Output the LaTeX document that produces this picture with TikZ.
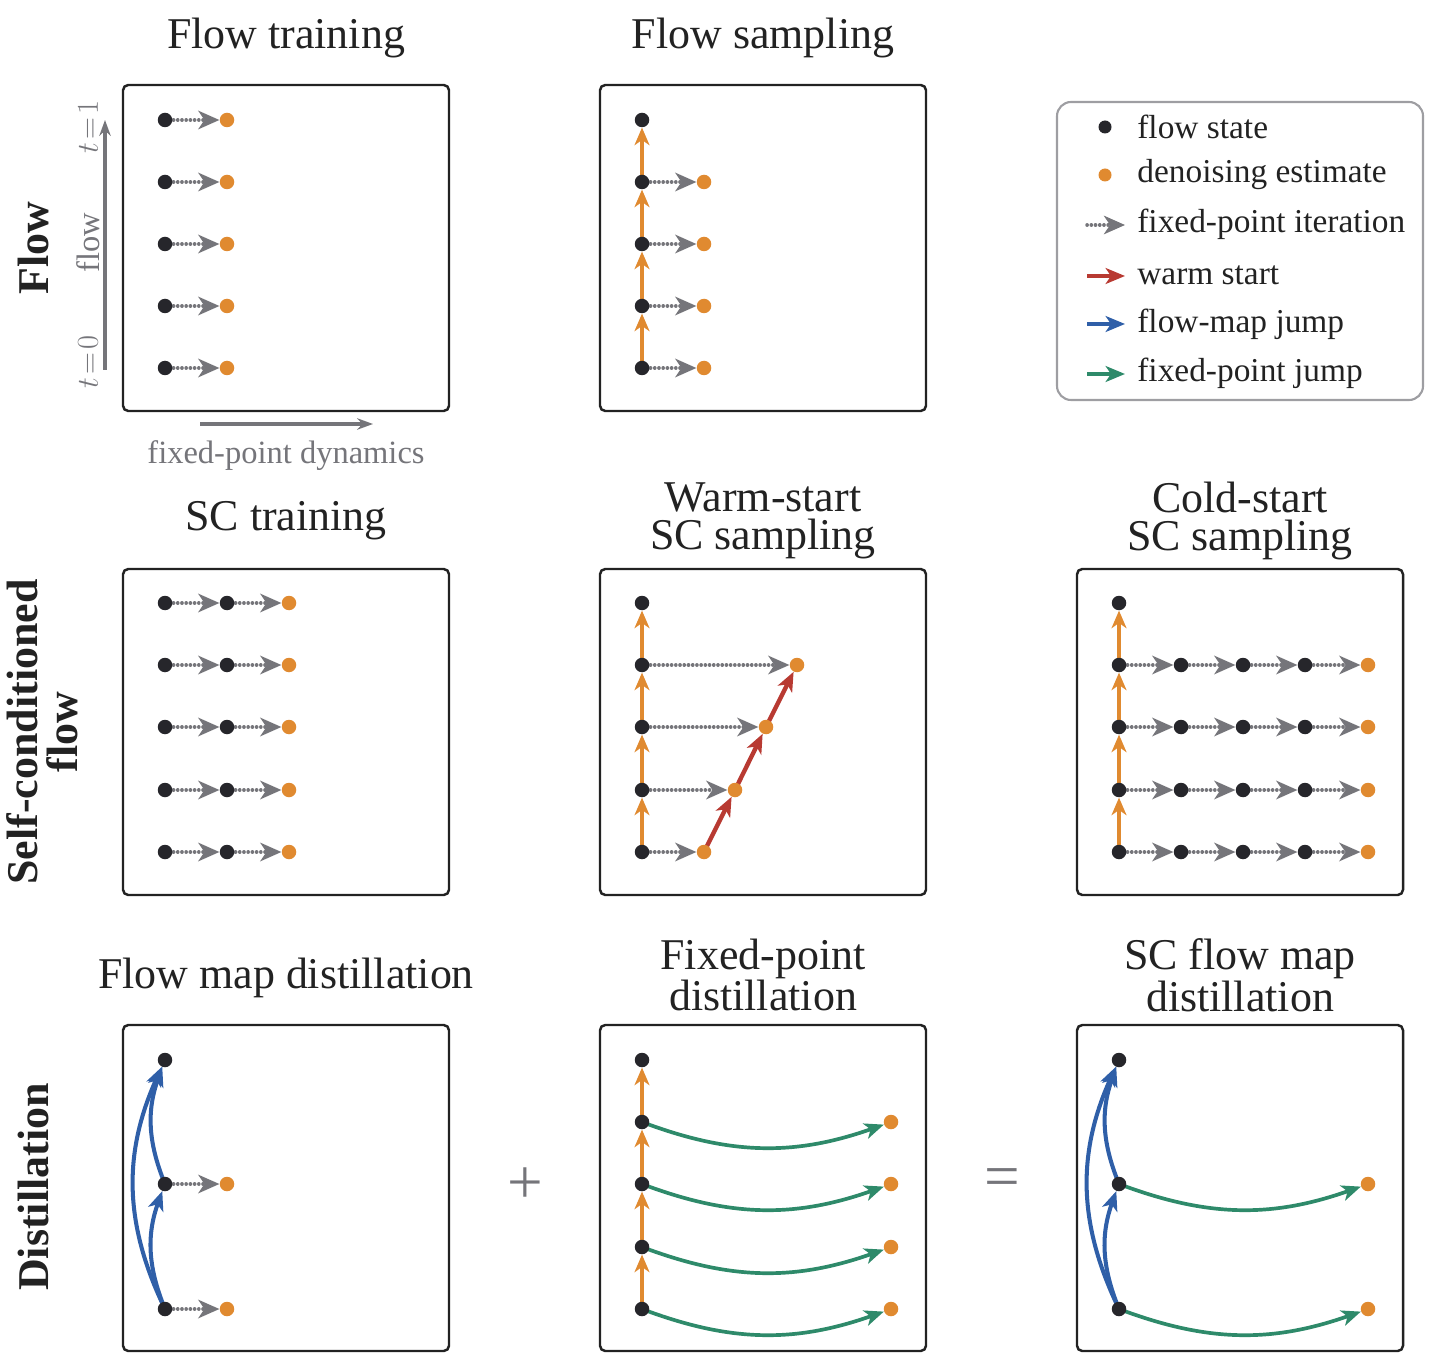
\documentclass[tikz,border=0pt]{standalone}
\usepackage{fontspec}
\setmainfont{Liberation Serif}
\usetikzlibrary{arrows.meta,backgrounds}
\definecolor{dotc}{HTML}{26262B}
\definecolor{orc}{HTML}{E08A30}
\definecolor{grc}{HTML}{75757A}
\definecolor{redc}{HTML}{B83A32}
\definecolor{bluc}{HTML}{2F5FA8}
\definecolor{grnc}{HTML}{2E8A6A}
\definecolor{txt}{HTML}{222222}
\tikzset{
  bd/.style={circle,fill=dotc,inner sep=0,minimum size=0.29cm},
  od/.style={circle,fill=orc,inner sep=0,minimum size=0.29cm},
  frame/.style={draw=txt,line width=1.4pt,rounded corners=3pt},
  fp/.style={draw=grc,line width=2pt,line cap=round,dash pattern=on 0.1pt off 2.3pt,
    -{Stealth[length=12pt,width=10.5pt,inset=3.5pt,fill=grc,line cap=butt,sep=0pt]}},
  ov/.style={draw=orc,line width=1.9pt,-{Stealth[length=10pt,width=8.5pt,inset=3pt]}},
  wr/.style={draw=redc,line width=2.5pt,-{Stealth[length=11pt,width=9pt,inset=3pt]}},
  bj/.style={draw=bluc,line width=2.3pt,-{Stealth[length=11pt,width=9pt,inset=3pt]}},
  gj/.style={draw=grnc,line width=2.1pt,-{Stealth[length=11pt,width=9pt,inset=3pt]}},
  ttl/.style={font=\fontsize{25}{22}\selectfont,text=txt,align=center,inner sep=0},
  rl/.style={font=\fontsize{25}{22.5}\selectfont\bfseries,text=txt,align=center,rotate=90,inner sep=0},
  ax/.style={font=\fontsize{18.5}{20}\selectfont,text=grc,inner sep=0},
  lg/.style={font=\fontsize{19}{21}\selectfont,text=txt,anchor=west,inner sep=0},
}
\begin{document}
\begin{tikzpicture}[x=0.02cm,y=-0.02cm]
\useasboundingbox (0,0) rectangle (1432,1364);
% frames
\foreach \x in {123,600,1077}{\foreach \y in {569,1025}{\draw[frame] (\x,\y) rectangle ++(326,326);}}
\draw[frame] (123,85) rectangle ++(326,326);
\draw[frame] (600,85) rectangle ++(326,326);
% titles
\node[ttl] (t1) at (286,38) {Flow training};
\node[ttl] (t2) at (763,38) {Flow sampling};
\node[ttl] (t3) at (286,521) {SC training};
\node[ttl] (t4) at (763,521) {Warm-start\\SC sampling};
\node[ttl] (t5) at (1240,521) {Cold-start\\SC sampling};
\node[ttl] (t6) at (286,978) {Flow map distillation};
\node[ttl] (t7) at (763,975) {Fixed-point\\distillation};
\node[ttl] (t8) at (1240,975) {SC flow map\\distillation};
\node[rl] (r1) at (33,248) {Flow};
\node[rl] (r2) at (42,732) {Self-conditioned\\flow};
\node[rl] (r3) at (33,1187) {Distillation};
\node[font=\fontsize{36}{36}\selectfont,text=grc] (plus) at (525,1186) {+};
\node[font=\fontsize{36}{36}\selectfont,text=grc] (eq) at (1002,1183) {=};
% axes
\coordinate (ay0) at (105,370); \coordinate (ay1) at (105,120);
\draw[grc,line width=2.2pt,-{Stealth[length=9pt,width=6.5pt]}] (ay0) -- (ay1);
\node[ax,rotate=90] (l1) at (88,127) {$t\!=\!1$};
\node[ax,rotate=90] (l2) at (88,243) {flow};
\node[ax,rotate=90] (l3) at (88,362) {$t\!=\!0$};
\coordinate (ax0) at (200,424); \coordinate (ax1) at (373,424);
\draw[grc,line width=2.2pt,-{Stealth[length=9pt,width=6.5pt]}] (ax0) -- (ax1);
\node[ax] (l4) at (286,456) {fixed-point dynamics};
% legend
\draw[draw=grc!70,line width=1.2pt,rounded corners=8pt] (1057,102) rectangle (1423,400);
\node[bd,minimum size=0.26cm] (lg1) at (1105,127) {};
\node[od,minimum size=0.26cm] (lg2) at (1105,175) {};
\coordinate (la) at (1087,225); \coordinate (lb) at (1125,225);
\draw[fp] (la) -- (lb);
\coordinate (lc) at (1087,276); \coordinate (ld) at (1125,276);
\draw[wr] (lc) -- (ld);
\coordinate (le) at (1087,324); \coordinate (lf) at (1125,324);
\draw[bj] (le) -- (lf);
\coordinate (lgg) at (1087,374); \coordinate (lh) at (1125,374);
\draw[gj] (lgg) -- (lh);
\node[lg] (x1) at (1137,127) {flow state};
\node[lg] (x2) at (1137,175) {denoising estimate};
\node[lg] (x3) at (1137,224) {fixed-point iteration};
\node[lg] (x4) at (1137,275) {warm start};
\node[lg] (x5) at (1137,324) {flow-map jump};
\node[lg] (x6) at (1137,373) {fixed-point jump};
% ---- Panel 1
\foreach \i/\y in {1/120,2/182,3/244,4/306,5/368}{
  \node[bd] (a\i) at (165,\y) {}; \node[od] (ao\i) at (227,\y) {};
  \begin{pgfonlayer}{background}\draw[fp] (a\i.center) -- (ao\i);\end{pgfonlayer}}
% ---- Panel 2
\foreach \i/\y in {1/120,2/182,3/244,4/306,5/368}{\node[bd] (b\i) at (642,\y) {};}
\foreach \i/\y in {2/182,3/244,4/306,5/368}{\node[od] (bo\i) at (704,\y) {};
  \begin{pgfonlayer}{background}\draw[fp] (b\i.center) -- (bo\i);\end{pgfonlayer}}
\begin{pgfonlayer}{background}
\foreach \i/\j in {2/1,3/2,4/3,5/4}{\draw[ov] (b\i.center) -- (b\j);}
\end{pgfonlayer}
% ---- Panel 3
\foreach \i/\y in {1/603,2/665,3/727,4/790,5/852}{
  \node[bd] (c\i) at (165,\y) {}; \node[bd] (cm\i) at (227,\y) {}; \node[od] (co\i) at (289,\y) {};
  \begin{pgfonlayer}{background}\draw[fp] (c\i.center) -- (cm\i); \draw[fp] (cm\i.center) -- (co\i);\end{pgfonlayer}}
% ---- Panel 4
\foreach \i/\y in {1/603,2/665,3/727,4/790,5/852}{\node[bd] (d\i) at (642,\y) {};}
\foreach \i/\y/\x in {2/665/797,3/727/766,4/790/735,5/852/704}{\node[od] (do\i) at (\x,\y) {};
  \begin{pgfonlayer}{background}\draw[fp] (d\i.center) -- (do\i);\end{pgfonlayer}}
\begin{pgfonlayer}{background}
\foreach \i/\j in {2/1,3/2,4/3,5/4}{\draw[ov] (d\i.center) -- (d\j);}
\foreach \i/\j in {5/4,4/3,3/2}{\draw[wr] (do\i.center) -- (do\j);}
\end{pgfonlayer}
% ---- Panel 5
\foreach \i/\y in {1/603,2/665,3/727,4/790,5/852}{\node[bd] (e\i) at (1119,\y) {};}
\foreach \i/\y in {2/665,3/727,4/790,5/852}{
  \node[bd] (ea\i) at (1181,\y) {}; \node[bd] (eb\i) at (1243,\y) {}; \node[bd] (ec\i) at (1305,\y) {}; \node[od] (eo\i) at (1368,\y) {};
  \begin{pgfonlayer}{background}
  \draw[fp] (e\i.center) -- (ea\i); \draw[fp] (ea\i.center) -- (eb\i); \draw[fp] (eb\i.center) -- (ec\i); \draw[fp] (ec\i.center) -- (eo\i);
  \end{pgfonlayer}}
\begin{pgfonlayer}{background}
\foreach \i/\j in {2/1,3/2,4/3,5/4}{\draw[ov] (e\i.center) -- (e\j);}
\end{pgfonlayer}
% ---- Panel 6
\node[bd] (f1) at (165,1060) {}; \node[bd] (f2) at (165,1184) {}; \node[bd] (f3) at (165,1309) {};
\node[od] (fo2) at (227,1184) {}; \node[od] (fo3) at (227,1309) {};
\begin{pgfonlayer}{background}
\draw[fp] (f2.center) -- (fo2); \draw[fp] (f3.center) -- (fo3);
\draw[bj] (f3.center) to[bend left=21] (f2);
\draw[bj] (f2.center) to[bend left=21] (f1);
\draw[bj] (f3.center) to[bend left=25] (f1);
\end{pgfonlayer}
% ---- Panel 7
\foreach \i/\y in {1/1060,2/1122,3/1184,4/1247,5/1309}{\node[bd] (g\i) at (642,\y) {};}
\foreach \i/\y in {2/1122,3/1184,4/1247,5/1309}{\node[od] (go\i) at (891,\y) {};
  \begin{pgfonlayer}{background}\draw[gj] (g\i.center) to[bend right=20] (go\i);\end{pgfonlayer}}
\begin{pgfonlayer}{background}
\foreach \i/\j in {2/1,3/2,4/3,5/4}{\draw[ov] (g\i.center) -- (g\j);}
\end{pgfonlayer}
% ---- Panel 8
\node[bd] (h1) at (1119,1060) {}; \node[bd] (h2) at (1119,1184) {}; \node[bd] (h3) at (1119,1309) {};
\node[od] (ho2) at (1368,1184) {}; \node[od] (ho3) at (1368,1309) {};
\begin{pgfonlayer}{background}
\draw[gj] (h2.center) to[bend right=20] (ho2); \draw[gj] (h3.center) to[bend right=20] (ho3);
\draw[bj] (h3.center) to[bend left=21] (h2);
\draw[bj] (h2.center) to[bend left=21] (h1);
\draw[bj] (h3.center) to[bend left=25] (h1);
\end{pgfonlayer}
\end{tikzpicture}
\end{document}
